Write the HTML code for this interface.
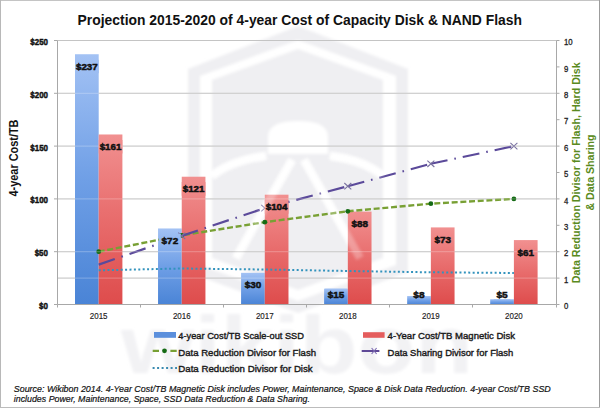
<!DOCTYPE html>
<html><head><meta charset="utf-8"><style>
html,body{margin:0;padding:0;background:#fff;overflow:hidden;}
svg{display:block;}
text{font-family:"Liberation Sans", sans-serif;}
</style></head><body>
<svg width="600" height="408" viewBox="0 0 600 408">
<defs>
<linearGradient id="gb" x1="0" y1="0" x2="0" y2="1">
<stop offset="0" stop-color="#a3c2f4"/><stop offset="0.5" stop-color="#6f9fe6"/><stop offset="1" stop-color="#4a84d6"/></linearGradient>
<linearGradient id="gr" x1="0" y1="0" x2="0" y2="1">
<stop offset="0" stop-color="#f19090"/><stop offset="0.5" stop-color="#e86c6c"/><stop offset="1" stop-color="#de4c4c"/></linearGradient>
</defs>
<rect x="0" y="0" width="600" height="408" fill="#fff"/>

<filter id="blur" x="-10%" y="-10%" width="120%" height="120%"><feGaussianBlur stdDeviation="1.8"/></filter>
<g filter="url(#blur)">
<g fill="#efeff2" stroke="none">
<path fill-rule="evenodd" d="M298,26 L408,69 L408,272 L298,313 L188,272 L188,69 Z M298,40 L396,76 L396,265 L298,301 L200,265 L200,76 Z"/>
<path d="M298,49 L383,80 L383,258 L298,290 L212,258 L212,80 Z"/>
</g>
<g fill="#ffffff" stroke="none">
<path d="M268,154 L268,137 Q268,121 298,121 Q328,121 328,137 L328,154 Z"/>
</g>
<g stroke="#ffffff" stroke-width="8" fill="none" stroke-linecap="butt">
<path d="M266,156 Q232,160 212,176"/>
<path d="M330,156 Q364,160 383,176"/>
<path d="M292,160 L236,258"/>
<path d="M304,160 L360,258"/>
</g>
<text x="121" y="373" font-size="82" font-weight="bold" fill="#f2f2f4" textLength="352" lengthAdjust="spacingAndGlyphs">wikibon</text>
</g>

<line x1="57.5" y1="251.70" x2="556.5" y2="251.70" stroke="#c4c4c4" stroke-width="1.2"/>
<line x1="57.5" y1="198.90" x2="556.5" y2="198.90" stroke="#c4c4c4" stroke-width="1.2"/>
<line x1="57.5" y1="146.10" x2="556.5" y2="146.10" stroke="#c4c4c4" stroke-width="1.2"/>
<line x1="57.5" y1="93.30" x2="556.5" y2="93.30" stroke="#c4c4c4" stroke-width="1.2"/>
<line x1="57.5" y1="40.50" x2="556.5" y2="40.50" stroke="#c4c4c4" stroke-width="1.2"/>
<line x1="57.5" y1="278.10" x2="556.5" y2="278.10" stroke="#c4c4c4" stroke-width="1.2"/>
<rect x="75.00" y="54.23" width="23.7" height="250.27" fill="url(#gb)"/>
<rect x="98.70" y="134.48" width="23.7" height="170.02" fill="url(#gr)"/>
<rect x="158.04" y="228.47" width="23.7" height="76.03" fill="url(#gb)"/>
<rect x="181.74" y="176.72" width="23.7" height="127.78" fill="url(#gr)"/>
<rect x="241.08" y="272.82" width="23.7" height="31.68" fill="url(#gb)"/>
<rect x="264.78" y="194.68" width="23.7" height="109.82" fill="url(#gr)"/>
<rect x="324.12" y="288.66" width="23.7" height="15.84" fill="url(#gb)"/>
<rect x="347.82" y="211.57" width="23.7" height="92.93" fill="url(#gr)"/>
<rect x="407.16" y="296.05" width="23.7" height="8.45" fill="url(#gb)"/>
<rect x="430.86" y="227.41" width="23.7" height="77.09" fill="url(#gr)"/>
<rect x="490.20" y="299.22" width="23.7" height="5.28" fill="url(#gb)"/>
<rect x="513.90" y="240.08" width="23.7" height="64.42" fill="url(#gr)"/>
<polyline points="98.70,270.3 181.74,268.5 264.78,269.5 347.82,271 430.86,272.3 513.90,273" fill="none" stroke="#3393bd" stroke-width="2" stroke-dasharray="2 2.4"/>
<polyline points="98.70,251.70 181.74,235.33 264.78,222.13 347.82,211.31 430.86,203.65 513.90,198.90" fill="none" stroke="#78a034" stroke-width="2.4" stroke-dasharray="6 2.7"/>
<circle cx="98.70" cy="251.70" r="2.4" fill="#146a14"/>
<circle cx="181.74" cy="235.33" r="2.4" fill="#146a14"/>
<circle cx="264.78" cy="222.13" r="2.4" fill="#146a14"/>
<circle cx="347.82" cy="211.31" r="2.4" fill="#146a14"/>
<circle cx="430.86" cy="203.65" r="2.4" fill="#146a14"/>
<circle cx="513.90" cy="198.90" r="2.4" fill="#146a14"/>
<line x1="98.70" y1="264.64" x2="181.74" y2="235.86" stroke="#5b4a9a" stroke-width="2.2" stroke-dasharray="17 7 1.6 7"/>
<line x1="181.74" y1="235.86" x2="264.78" y2="208.14" stroke="#5b4a9a" stroke-width="2.2" stroke-dasharray="17 7 1.6 7"/>
<line x1="264.78" y1="208.14" x2="347.82" y2="186.23" stroke="#5b4a9a" stroke-width="2.2" stroke-dasharray="17 7 1.6 7"/>
<line x1="347.82" y1="186.23" x2="430.86" y2="163.79" stroke="#5b4a9a" stroke-width="2.2" stroke-dasharray="17 7 1.6 7"/>
<line x1="430.86" y1="163.79" x2="513.90" y2="146.10" stroke="#5b4a9a" stroke-width="2.2" stroke-dasharray="17 7 1.6 7"/>
<path d="M178.24,232.66 L185.24,239.06 M178.24,239.06 L185.24,232.66" stroke="#7a72a0" stroke-width="1.1" fill="none"/>
<path d="M261.28,204.94 L268.28,211.34 M261.28,211.34 L268.28,204.94" stroke="#7a72a0" stroke-width="1.1" fill="none"/>
<path d="M344.32,183.03 L351.32,189.43 M344.32,189.43 L351.32,183.03" stroke="#7a72a0" stroke-width="1.1" fill="none"/>
<path d="M427.36,160.59 L434.36,166.99 M427.36,166.99 L434.36,160.59" stroke="#7a72a0" stroke-width="1.1" fill="none"/>
<path d="M510.40,142.90 L517.40,149.30 M510.40,149.30 L517.40,142.90" stroke="#7a72a0" stroke-width="1.1" fill="none"/>
<defs><clipPath id="cb0"><rect x="73.35" y="59.63" width="27.00" height="13.60"/></clipPath><clipPath id="cr0"><rect x="97.05" y="139.88" width="27.00" height="13.60"/></clipPath><clipPath id="cb1"><rect x="159.02" y="233.87" width="21.75" height="13.60"/></clipPath><clipPath id="cr1"><rect x="180.09" y="182.12" width="27.00" height="13.60"/></clipPath><clipPath id="cb2"><rect x="242.06" y="278.22" width="21.75" height="13.60"/></clipPath><clipPath id="cr2"><rect x="263.13" y="200.08" width="27.00" height="13.60"/></clipPath><clipPath id="cb3"><rect x="325.09" y="288.20" width="21.75" height="13.60"/></clipPath><clipPath id="cr3"><rect x="348.80" y="216.97" width="21.75" height="13.60"/></clipPath><clipPath id="cb4"><rect x="410.76" y="288.20" width="16.50" height="13.60"/></clipPath><clipPath id="cr4"><rect x="431.84" y="232.81" width="21.75" height="13.60"/></clipPath><clipPath id="cb5"><rect x="493.80" y="288.20" width="16.50" height="13.60"/></clipPath><clipPath id="cr5"><rect x="514.88" y="245.48" width="21.75" height="13.60"/></clipPath></defs>
<rect x="75.00" y="54.23" width="23.7" height="250.27" fill="url(#gb)" clip-path="url(#cb0)"/>
<rect x="98.70" y="134.48" width="23.7" height="170.02" fill="url(#gr)" clip-path="url(#cr0)"/>
<rect x="158.04" y="228.47" width="23.7" height="76.03" fill="url(#gb)" clip-path="url(#cb1)"/>
<rect x="181.74" y="176.72" width="23.7" height="127.78" fill="url(#gr)" clip-path="url(#cr1)"/>
<rect x="241.08" y="272.82" width="23.7" height="31.68" fill="url(#gb)" clip-path="url(#cb2)"/>
<rect x="264.78" y="194.68" width="23.7" height="109.82" fill="url(#gr)" clip-path="url(#cr2)"/>
<rect x="324.12" y="288.66" width="23.7" height="15.84" fill="url(#gb)" clip-path="url(#cb3)"/>
<rect x="347.82" y="211.57" width="23.7" height="92.93" fill="url(#gr)" clip-path="url(#cr3)"/>
<rect x="407.16" y="296.05" width="23.7" height="8.45" fill="url(#gb)" clip-path="url(#cb4)"/>
<rect x="430.86" y="227.41" width="23.7" height="77.09" fill="url(#gr)" clip-path="url(#cr4)"/>
<rect x="490.20" y="299.22" width="23.7" height="5.28" fill="url(#gb)" clip-path="url(#cb5)"/>
<rect x="513.90" y="240.08" width="23.7" height="64.42" fill="url(#gr)" clip-path="url(#cr5)"/>
<line x1="57.5" y1="251.70" x2="556.5" y2="251.70" stroke="#ffffff" stroke-opacity="0.22" stroke-width="1.2"/>
<line x1="57.5" y1="198.90" x2="556.5" y2="198.90" stroke="#ffffff" stroke-opacity="0.22" stroke-width="1.2"/>
<line x1="57.5" y1="146.10" x2="556.5" y2="146.10" stroke="#ffffff" stroke-opacity="0.22" stroke-width="1.2"/>
<line x1="57.5" y1="93.30" x2="556.5" y2="93.30" stroke="#ffffff" stroke-opacity="0.22" stroke-width="1.2"/>
<line x1="57.5" y1="278.10" x2="556.5" y2="278.10" stroke="#ffffff" stroke-opacity="0.22" stroke-width="1.2"/>
<g filter="url(#blur)" opacity="0.28"><g stroke="#ffffff" stroke-width="8" fill="none">
<path d="M266,156 Q232,160 212,176"/><path d="M330,156 Q364,160 383,176"/><path d="M292,160 L236,258"/><path d="M304,160 L360,258"/></g></g>
<line x1="57.5" y1="40.5" x2="57.5" y2="304.5" stroke="#a8a8a8" stroke-width="1"/>
<line x1="556.5" y1="40.5" x2="556.5" y2="304.5" stroke="#a8a8a8" stroke-width="1"/>
<line x1="57.5" y1="304.5" x2="556.5" y2="304.5" stroke="#a8a8a8" stroke-width="1"/>
<line x1="54.0" y1="304.50" x2="57.5" y2="304.50" stroke="#a8a8a8" stroke-width="1"/>
<line x1="54.0" y1="251.70" x2="57.5" y2="251.70" stroke="#a8a8a8" stroke-width="1"/>
<line x1="54.0" y1="198.90" x2="57.5" y2="198.90" stroke="#a8a8a8" stroke-width="1"/>
<line x1="54.0" y1="146.10" x2="57.5" y2="146.10" stroke="#a8a8a8" stroke-width="1"/>
<line x1="54.0" y1="93.30" x2="57.5" y2="93.30" stroke="#a8a8a8" stroke-width="1"/>
<line x1="54.0" y1="40.50" x2="57.5" y2="40.50" stroke="#a8a8a8" stroke-width="1"/>
<line x1="556.5" y1="304.50" x2="559.5" y2="304.50" stroke="#a8a8a8" stroke-width="1"/>
<line x1="556.5" y1="278.10" x2="559.5" y2="278.10" stroke="#a8a8a8" stroke-width="1"/>
<line x1="556.5" y1="251.70" x2="559.5" y2="251.70" stroke="#a8a8a8" stroke-width="1"/>
<line x1="556.5" y1="225.30" x2="559.5" y2="225.30" stroke="#a8a8a8" stroke-width="1"/>
<line x1="556.5" y1="198.90" x2="559.5" y2="198.90" stroke="#a8a8a8" stroke-width="1"/>
<line x1="556.5" y1="172.50" x2="559.5" y2="172.50" stroke="#a8a8a8" stroke-width="1"/>
<line x1="556.5" y1="146.10" x2="559.5" y2="146.10" stroke="#a8a8a8" stroke-width="1"/>
<line x1="556.5" y1="119.70" x2="559.5" y2="119.70" stroke="#a8a8a8" stroke-width="1"/>
<line x1="556.5" y1="93.30" x2="559.5" y2="93.30" stroke="#a8a8a8" stroke-width="1"/>
<line x1="556.5" y1="66.90" x2="559.5" y2="66.90" stroke="#a8a8a8" stroke-width="1"/>
<line x1="556.5" y1="40.50" x2="559.5" y2="40.50" stroke="#a8a8a8" stroke-width="1"/>
<line x1="57.50" y1="304.5" x2="57.50" y2="307.5" stroke="#a8a8a8" stroke-width="1"/>
<line x1="140.50" y1="304.5" x2="140.50" y2="307.5" stroke="#a8a8a8" stroke-width="1"/>
<line x1="223.50" y1="304.5" x2="223.50" y2="307.5" stroke="#a8a8a8" stroke-width="1"/>
<line x1="306.50" y1="304.5" x2="306.50" y2="307.5" stroke="#a8a8a8" stroke-width="1"/>
<line x1="389.50" y1="304.5" x2="389.50" y2="307.5" stroke="#a8a8a8" stroke-width="1"/>
<line x1="472.50" y1="304.5" x2="472.50" y2="307.5" stroke="#a8a8a8" stroke-width="1"/>
<line x1="556.50" y1="304.5" x2="556.50" y2="307.5" stroke="#a8a8a8" stroke-width="1"/>
<text x="75.95" y="69.83" textLength="21.80" font-size="9.8" font-weight="bold" fill="#111" stroke="#111" stroke-width="0.5" lengthAdjust="spacingAndGlyphs">$237</text>
<text x="99.65" y="150.08" textLength="21.80" font-size="9.8" font-weight="bold" fill="#111" stroke="#111" stroke-width="0.5" lengthAdjust="spacingAndGlyphs">$161</text>
<text x="161.62" y="244.07" textLength="16.55" font-size="9.8" font-weight="bold" fill="#111" stroke="#111" stroke-width="0.5" lengthAdjust="spacingAndGlyphs">$72</text>
<text x="182.69" y="192.32" textLength="21.80" font-size="9.8" font-weight="bold" fill="#111" stroke="#111" stroke-width="0.5" lengthAdjust="spacingAndGlyphs">$121</text>
<text x="244.66" y="288.42" textLength="16.55" font-size="9.8" font-weight="bold" fill="#111" stroke="#111" stroke-width="0.5" lengthAdjust="spacingAndGlyphs">$30</text>
<text x="265.73" y="210.28" textLength="21.80" font-size="9.8" font-weight="bold" fill="#111" stroke="#111" stroke-width="0.5" lengthAdjust="spacingAndGlyphs">$104</text>
<text x="327.69" y="298.40" textLength="16.55" font-size="9.8" font-weight="bold" fill="#111" stroke="#111" stroke-width="0.5" lengthAdjust="spacingAndGlyphs">$15</text>
<text x="351.40" y="227.17" textLength="16.55" font-size="9.8" font-weight="bold" fill="#111" stroke="#111" stroke-width="0.5" lengthAdjust="spacingAndGlyphs">$88</text>
<text x="413.36" y="298.40" textLength="11.30" font-size="9.8" font-weight="bold" fill="#111" stroke="#111" stroke-width="0.5" lengthAdjust="spacingAndGlyphs">$8</text>
<text x="434.44" y="243.01" textLength="16.55" font-size="9.8" font-weight="bold" fill="#111" stroke="#111" stroke-width="0.5" lengthAdjust="spacingAndGlyphs">$73</text>
<text x="496.40" y="298.40" textLength="11.30" font-size="9.8" font-weight="bold" fill="#111" stroke="#111" stroke-width="0.5" lengthAdjust="spacingAndGlyphs">$5</text>
<text x="517.48" y="255.68" textLength="16.55" font-size="9.8" font-weight="bold" fill="#111" stroke="#111" stroke-width="0.5" lengthAdjust="spacingAndGlyphs">$61</text>
<text x="48" y="308.90" font-size="9.6" font-weight="bold" fill="#111" stroke="#111" stroke-width="0.45" text-anchor="end" textLength="8.9" lengthAdjust="spacingAndGlyphs">$0</text>
<text x="48" y="256.10" font-size="9.6" font-weight="bold" fill="#111" stroke="#111" stroke-width="0.45" text-anchor="end" textLength="13.3" lengthAdjust="spacingAndGlyphs">$50</text>
<text x="48" y="203.30" font-size="9.6" font-weight="bold" fill="#111" stroke="#111" stroke-width="0.45" text-anchor="end" textLength="17.7" lengthAdjust="spacingAndGlyphs">$100</text>
<text x="48" y="150.50" font-size="9.6" font-weight="bold" fill="#111" stroke="#111" stroke-width="0.45" text-anchor="end" textLength="17.7" lengthAdjust="spacingAndGlyphs">$150</text>
<text x="48" y="97.70" font-size="9.6" font-weight="bold" fill="#111" stroke="#111" stroke-width="0.45" text-anchor="end" textLength="17.7" lengthAdjust="spacingAndGlyphs">$200</text>
<text x="48" y="44.90" font-size="9.6" font-weight="bold" fill="#111" stroke="#111" stroke-width="0.45" text-anchor="end" textLength="17.7" lengthAdjust="spacingAndGlyphs">$250</text>
<text x="564.0" y="309.20" font-size="8.6" fill="#1e1e1e" stroke="#1e1e1e" stroke-width="0.3" textLength="4.3" lengthAdjust="spacingAndGlyphs">0</text>
<text x="564.0" y="282.80" font-size="8.6" fill="#1e1e1e" stroke="#1e1e1e" stroke-width="0.3" textLength="4.3" lengthAdjust="spacingAndGlyphs">1</text>
<text x="564.0" y="256.40" font-size="8.6" fill="#1e1e1e" stroke="#1e1e1e" stroke-width="0.3" textLength="4.3" lengthAdjust="spacingAndGlyphs">2</text>
<text x="564.0" y="230.00" font-size="8.6" fill="#1e1e1e" stroke="#1e1e1e" stroke-width="0.3" textLength="4.3" lengthAdjust="spacingAndGlyphs">3</text>
<text x="564.0" y="203.60" font-size="8.6" fill="#1e1e1e" stroke="#1e1e1e" stroke-width="0.3" textLength="4.3" lengthAdjust="spacingAndGlyphs">4</text>
<text x="564.0" y="177.20" font-size="8.6" fill="#1e1e1e" stroke="#1e1e1e" stroke-width="0.3" textLength="4.3" lengthAdjust="spacingAndGlyphs">5</text>
<text x="564.0" y="150.80" font-size="8.6" fill="#1e1e1e" stroke="#1e1e1e" stroke-width="0.3" textLength="4.3" lengthAdjust="spacingAndGlyphs">6</text>
<text x="564.0" y="124.40" font-size="8.6" fill="#1e1e1e" stroke="#1e1e1e" stroke-width="0.3" textLength="4.3" lengthAdjust="spacingAndGlyphs">7</text>
<text x="564.0" y="98.00" font-size="8.6" fill="#1e1e1e" stroke="#1e1e1e" stroke-width="0.3" textLength="4.3" lengthAdjust="spacingAndGlyphs">8</text>
<text x="564.0" y="71.60" font-size="8.6" fill="#1e1e1e" stroke="#1e1e1e" stroke-width="0.3" textLength="4.3" lengthAdjust="spacingAndGlyphs">9</text>
<text x="564.0" y="45.20" font-size="8.6" fill="#1e1e1e" stroke="#1e1e1e" stroke-width="0.3" textLength="8.7" lengthAdjust="spacingAndGlyphs">10</text>
<text x="89.85" y="319.3" font-size="8.8" fill="#222" stroke="#222" stroke-width="0.15" textLength="17.7" lengthAdjust="spacingAndGlyphs">2015</text>
<text x="172.89" y="319.3" font-size="8.8" fill="#222" stroke="#222" stroke-width="0.15" textLength="17.7" lengthAdjust="spacingAndGlyphs">2016</text>
<text x="255.93" y="319.3" font-size="8.8" fill="#222" stroke="#222" stroke-width="0.15" textLength="17.7" lengthAdjust="spacingAndGlyphs">2017</text>
<text x="338.97" y="319.3" font-size="8.8" fill="#222" stroke="#222" stroke-width="0.15" textLength="17.7" lengthAdjust="spacingAndGlyphs">2018</text>
<text x="422.01" y="319.3" font-size="8.8" fill="#222" stroke="#222" stroke-width="0.15" textLength="17.7" lengthAdjust="spacingAndGlyphs">2019</text>
<text x="505.05" y="319.3" font-size="8.8" fill="#222" stroke="#222" stroke-width="0.15" textLength="17.7" lengthAdjust="spacingAndGlyphs">2020</text>
<text x="77.6" y="24.5" font-size="14.5" font-weight="bold" fill="#111" textLength="444.4" lengthAdjust="spacingAndGlyphs">Projection 2015-2020 of 4-year Cost of Capacity Disk &amp; NAND Flash</text>
<text transform="translate(17.6,196.5) rotate(-90)" font-size="12" font-weight="bold" fill="#111" textLength="77" lengthAdjust="spacingAndGlyphs">4-year Cost/TB</text>
<text transform="translate(580.2,283.3) rotate(-90)" font-size="10.2" font-weight="bold" fill="#5a8a20" textLength="221" lengthAdjust="spacingAndGlyphs">Data Reduction Divisor for Flash, Hard Disk</text>
<text transform="translate(594.3,210.6) rotate(-90)" font-size="10.2" font-weight="bold" fill="#5a8a20" textLength="76.2" lengthAdjust="spacingAndGlyphs">&amp; Data Sharing</text>
<rect x="154" y="332" width="22" height="5.8" fill="#5b8fdc"/>
<text x="178.3" y="339.3" font-size="9.8" fill="#1a1a1a" stroke="#1a1a1a" stroke-width="0.4" textLength="125.7" lengthAdjust="spacingAndGlyphs">4-year Cost/TB Scale-out SSD</text>
<line x1="152.7" y1="350.8" x2="176.7" y2="350.8" stroke="#78a034" stroke-width="2.3" stroke-dasharray="6.3 11.4 6.3"/>
<circle cx="164.5" cy="350.8" r="2.4" fill="#146a14"/>
<text x="178.3" y="355.8" font-size="9.8" fill="#1a1a1a" stroke="#1a1a1a" stroke-width="0.4" textLength="137.7" lengthAdjust="spacingAndGlyphs">Data Reduction Divisor for Flash</text>
<line x1="152.6" y1="368" x2="177" y2="368" stroke="#3a8ab0" stroke-width="2" stroke-dasharray="2 2.5"/>
<text x="178.3" y="372" font-size="9.8" fill="#1a1a1a" stroke="#1a1a1a" stroke-width="0.4" textLength="134.4" lengthAdjust="spacingAndGlyphs">Data Reduction Divisor for Disk</text>
<rect x="363" y="332.2" width="21.6" height="5.6" fill="#e45c5c"/>
<text x="387.6" y="339.3" font-size="9.8" fill="#1a1a1a" stroke="#1a1a1a" stroke-width="0.4" textLength="127.4" lengthAdjust="spacingAndGlyphs">4-Year Cost/TB Magnetic Disk</text>
<line x1="361.7" y1="351" x2="379.4" y2="351" stroke="#5e4896" stroke-width="2"/>
<path d="M371.6,348 L376.6,354 M371.6,354 L376.6,348" stroke="#7a68b0" stroke-width="1.1"/>
<text x="387.6" y="355.6" font-size="9.8" fill="#1a1a1a" stroke="#1a1a1a" stroke-width="0.4" textLength="125.7" lengthAdjust="spacingAndGlyphs">Data Sharing Divisor for Flash</text>
<text x="13.75" y="391.75" font-size="9.6" font-style="italic" fill="#111" stroke="#111" stroke-width="0.2" textLength="537" lengthAdjust="spacingAndGlyphs">Source: Wikibon 2014. 4-Year Cost/TB Magnetic Disk includes Power, Maintenance, Space &amp; Disk Data Reduction. 4-year Cost/TB SSD</text>
<text x="13.75" y="402" font-size="9.6" font-style="italic" fill="#111" stroke="#111" stroke-width="0.2" textLength="296.25" lengthAdjust="spacingAndGlyphs">includes Power, Maintenance, Space, SSD Data Reduction &amp; Data Sharing.</text>
<rect x="0" y="0" width="600" height="1" fill="#c4c4c4"/><rect x="0" y="0" width="1" height="408" fill="#b8b8b8"/><rect x="599" y="0" width="1" height="408" fill="#9c9c9c"/><rect x="0" y="407" width="600" height="1" fill="#bcbcbc"/>
</svg></body></html>
